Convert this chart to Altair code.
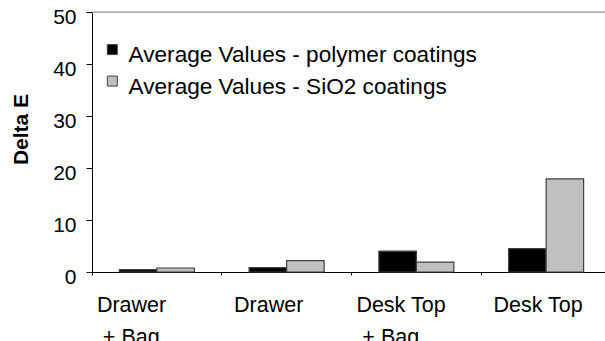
import altair as alt
import pandas as pd

categories = ["Drawer\n\u200b\u00a0+ Bag", "Drawer", "Desk Top\n\u200b\u00a0+ Bag", "Desk Top"]
series = ["Average Values - polymer coatings", "Average Values - SiO2 coatings"]
polymer = [0.45, 0.83, 4.0, 4.5]
sio2 = [0.77, 2.2, 1.9, 17.9]
y_ticks = [0, 10, 20, 30, 40, 50]
colors = ["#000000", "#C0C0C0"]

rows = []
for c, a, b in zip(categories, polymer, sio2):
    rows.append({"cat": c, "series": series[0], "val": a})
    rows.append({"cat": c, "series": series[1], "val": b})
df = pd.DataFrame(rows)

FONT = "Liberation Sans"

bars = alt.Chart(df).mark_bar(stroke="#404040", strokeWidth=1.2).encode(
    x=alt.X("cat:N", sort=categories,
            scale=alt.Scale(range=[0, 519], paddingInner=0, paddingOuter=0),
            axis=alt.Axis(title=None, labelAngle=0, bandPosition=0,
                          labelExpr="split(datum.label, '\\n')",
                          labelAlign="left", labelBaseline="top",
                          labelOffset={"condition": {"test": "indexof(datum.value, '+') >= 0", "value": -60},
                                       "value": -52.6},
                          labelFontSize=21.5, labelFont=FONT, labelColor="#000",
                          labelLineHeight=32, labelPadding=19,
                          tickSize=3, tickColor="#000", domainColor="#000",
                          labelLimit=300)),
    xOffset=alt.XOffset("series:N", sort=series,
                        scale=alt.Scale(paddingInner=0, paddingOuter=0.73)),
    y=alt.Y("val:Q", scale=alt.Scale(domain=[0, 50], nice=False),
            axis=alt.Axis(title="Delta E", values=y_ticks, grid=False,
                          labelFontSize=21, labelFont=FONT, labelColor="#000",
                          labelPadding=10, labelOffset=5,
                          tickSize=6, tickColor="#000", domainColor="#000",
                          titleFont=FONT, titleFontSize=21, titleFontWeight="bold",
                          titleColor="#000", titleAngle=-90, titleX=-65, titleY=117,
                          titleAlign="center", titleBaseline="alphabetic")),
    color=alt.Color("series:N", sort=series,
                    scale=alt.Scale(domain=series, range=colors),
                    legend=alt.Legend(title=None, orient="none", legendX=9, legendY=32,
                                      padding=0, symbolType="M-1,-2.14H1V-0.14H-1Z",
                                      symbolSize=100, symbolStrokeColor="#404040",
                                      symbolStrokeWidth=1, labelFont=FONT, labelFontSize=22.6,
                                      labelColor="#000", labelOffset=5, rowPadding=6.5,
                                      labelLimit=600)),
)

top_line = alt.Chart(pd.DataFrame({"v": [50]})).mark_rule(color="#888888", strokeWidth=1).encode(
    y=alt.Y("v:Q")
)

chart = alt.layer(bars, top_line).properties(
    width=513, height=260,
    autosize=alt.AutoSizeParams(type="none"),
    padding={"left": 92, "top": 12, "right": 0, "bottom": 69},
).configure_view(stroke=None).configure(background="white")

chart.save("out.html", embed_options={"renderer": "svg", "actions": False})
